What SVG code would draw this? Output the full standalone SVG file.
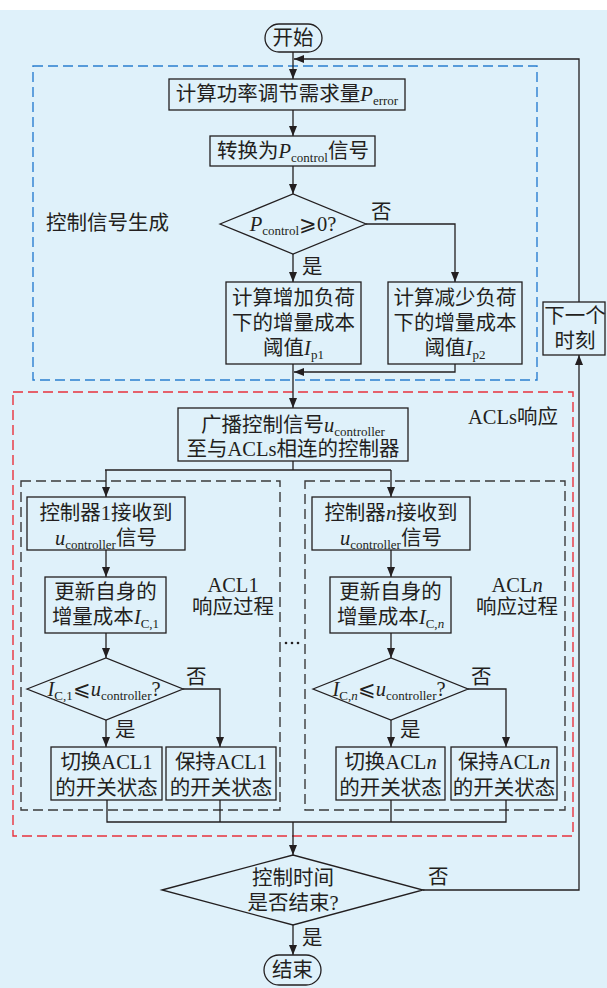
<svg xmlns="http://www.w3.org/2000/svg" width="607" height="988" viewBox="0 0 607 988">
<style>
.t{font-family:'Liberation Serif','Noto Sans CJK SC',serif;font-size:20.5px;fill:#231f20}
.m{text-anchor:middle}
.s{font-size:13px}
.i{font-style:italic}
.b{fill:none;stroke:#231f20;stroke-width:1.3}
.c{fill:none;stroke:#231f20;stroke-width:1.3}
.blue{fill:none;stroke:#2b7fd0;stroke-width:1.4;stroke-dasharray:10 5}
.red{fill:none;stroke:#e8323c;stroke-width:1.4;stroke-dasharray:10 5}
.blk{fill:none;stroke:#3a3a3a;stroke-width:1.4;stroke-dasharray:10 5}
</style>
<defs>
<marker id="a" viewBox="0 0 10 8" refX="10" refY="4" markerWidth="10" markerHeight="8" orient="auto" markerUnits="userSpaceOnUse"><path d="M0,0 L10,4 L0,8 z" fill="#231f20"/></marker>
</defs>
<rect x="0" y="10" width="607" height="978" fill="#dff1fa"/>

<g id="regions">
<rect class="blue" x="33" y="66" width="504" height="314"/>
<rect class="red" x="13" y="392" width="560" height="444"/>
<rect class="blk" x="21" y="481" width="259" height="329"/>
<rect class="blk" x="305" y="481" width="260" height="329"/>
<text class="t" x="46" y="230">控制信号生成</text>
<text class="t m" x="513" y="424">ACLs响应</text>
<text class="t m" x="233" y="592">ACL1</text>
<text class="t m" x="233" y="614">响应过程</text>
<text class="t m" x="517" y="592">ACL<tspan class="i">n</tspan></text>
<text class="t m" x="517" y="614">响应过程</text>
<circle cx="286" cy="643" r="1.3" fill="#231f20"/>
<circle cx="292" cy="643" r="1.3" fill="#231f20"/>
<circle cx="298" cy="643" r="1.3" fill="#231f20"/>
</g>

<g id="connectors">
<line class="c" x1="293" y1="52" x2="293" y2="79" marker-end="url(#a)"/>
<polyline class="c" points="579,302 579,59 294,59" marker-end="url(#a)"/>
<line class="c" x1="293" y1="110" x2="293" y2="136" marker-end="url(#a)"/>
<line class="c" x1="293" y1="166" x2="293" y2="194" marker-end="url(#a)"/>
<line class="c" x1="293" y1="254" x2="293" y2="282" marker-end="url(#a)"/>
<polyline class="c" points="366,224 455,224 455,282" marker-end="url(#a)"/>
<polyline class="c" points="455,364 455,372 294,372" marker-end="url(#a)"/>
<line class="c" x1="293" y1="364" x2="293" y2="408" marker-end="url(#a)"/>
<line class="c" x1="293" y1="461" x2="293" y2="470"/>
<line class="c" x1="105" y1="470" x2="391" y2="470"/>
<line class="c" x1="106" y1="470" x2="106" y2="497" marker-end="url(#a)"/>
<line class="c" x1="391" y1="470" x2="391" y2="497" marker-end="url(#a)"/>
<line class="c" x1="106" y1="550" x2="106" y2="577" marker-end="url(#a)"/>
<line class="c" x1="391" y1="550" x2="391" y2="577" marker-end="url(#a)"/>
<line class="c" x1="106" y1="633" x2="106" y2="658" marker-end="url(#a)"/>
<line class="c" x1="391" y1="633" x2="391" y2="658" marker-end="url(#a)"/>
<line class="c" x1="106" y1="720" x2="106" y2="747" marker-end="url(#a)"/>
<polyline class="c" points="183,689 220,689 220,747" marker-end="url(#a)"/>
<line class="c" x1="391" y1="720" x2="391" y2="747" marker-end="url(#a)"/>
<polyline class="c" points="468,689 506,689 506,747" marker-end="url(#a)"/>
<polyline class="c" points="107,800 107,822 506,822 506,800"/>
<line class="c" x1="220" y1="800" x2="220" y2="822"/>
<line class="c" x1="391" y1="800" x2="391" y2="822"/>
<line class="c" x1="293" y1="822" x2="293" y2="855" marker-end="url(#a)"/>
<polyline class="c" points="423,890 579,890 579,355" marker-end="url(#a)"/>
<line class="c" x1="293" y1="925" x2="293" y2="955" marker-end="url(#a)"/>
<text class="t" x="371" y="219">否</text>
<text class="t" x="302" y="274">是</text>
<text class="t" x="186" y="684">否</text>
<text class="t" x="115" y="737">是</text>
<text class="t" x="471" y="684">否</text>
<text class="t" x="400" y="737">是</text>
<text class="t" x="428" y="884">否</text>
<text class="t" x="302" y="945">是</text>
</g>

<g id="start">
<rect class="b" x="265" y="24" width="57" height="28" rx="14"/>
<text class="t m" x="293" y="45">开始</text>
</g>
<g id="calc-p">
<rect class="b" x="169" y="79" width="236" height="31"/>
<text class="t m" x="287" y="101">计算功率调节需求量<tspan class="i">P</tspan><tspan class="s" dy="4">error</tspan></text>
</g>
<g id="convert">
<rect class="b" x="210" y="136" width="165" height="30"/>
<text class="t m" x="293" y="158">转换为<tspan class="i">P</tspan><tspan class="s" dy="4">control</tspan><tspan dy="-4">信号</tspan></text>
</g>
<g id="dec1">
<polygon class="b" points="220,224 293,194 366,224 293,254"/>
<text class="t m" x="293" y="231"><tspan class="i">P</tspan><tspan class="s" dy="4">control</tspan><tspan dy="-4">⩾0?</tspan></text>
</g>
<g id="inc-cost">
<rect class="b" x="226" y="282" width="135" height="82"/>
<text class="t m" x="293.5" y="305">计算增加负荷</text>
<text class="t m" x="293.5" y="330">下的增量成本</text>
<text class="t m" x="293.5" y="355">阈值<tspan class="i">I</tspan><tspan class="s" dy="4">p1</tspan></text>
</g>
<g id="dec-cost">
<rect class="b" x="388" y="282" width="134" height="82"/>
<text class="t m" x="455" y="305">计算减少负荷</text>
<text class="t m" x="455" y="330">下的增量成本</text>
<text class="t m" x="455" y="355">阈值<tspan class="i">I</tspan><tspan class="s" dy="4">p2</tspan></text>
</g>
<g id="next">
<rect class="b" x="543" y="302" width="62" height="53"/>
<text class="t m" x="575" y="323">下一个</text>
<text class="t m" x="575" y="348">时刻</text>
</g>
<g id="broadcast">
<rect class="b" x="178" y="408" width="230" height="53"/>
<text class="t m" x="293" y="432">广播控制信号<tspan class="i">u</tspan><tspan class="s" dy="4">controller</tspan></text>
<text class="t m" x="293" y="456">至与ACLs相连的控制器</text>
</g>
<g id="recv1">
<rect class="b" x="27" y="497" width="158" height="53"/>
<text class="t m" x="106" y="520">控制器1接收到</text>
<text class="t m" x="106" y="545"><tspan class="i">u</tspan><tspan class="s" dy="4">controller</tspan><tspan dy="-4">信号</tspan></text>
</g>
<g id="update1">
<rect class="b" x="45" y="577" width="121" height="56"/>
<text class="t m" x="105.5" y="599">更新自身的</text>
<text class="t m" x="105.5" y="624">增量成本<tspan class="i">I</tspan><tspan class="s" dy="4">C,1</tspan></text>
</g>
<g id="dec-acl1">
<polygon class="b" points="27,689 106,658 183,689 106,720"/>
<text class="t m" x="104" y="696"><tspan class="i">I</tspan><tspan class="s" dy="4">C,1</tspan><tspan dy="-4">⩽</tspan><tspan class="i">u</tspan><tspan class="s" dy="4">controller</tspan><tspan dy="-4">?</tspan></text>
</g>
<g id="switch1">
<rect class="b" x="51" y="747" width="111" height="53"/>
<text class="t m" x="106.5" y="769">切换ACL1</text>
<text class="t m" x="106.5" y="795">的开关状态</text>
</g>
<g id="keep1">
<rect class="b" x="166" y="747" width="110" height="53"/>
<text class="t m" x="221" y="769">保持ACL1</text>
<text class="t m" x="221" y="795">的开关状态</text>
</g>
<g id="recvn">
<rect class="b" x="312" y="497" width="158" height="53"/>
<text class="t m" x="391" y="520">控制器<tspan class="i">n</tspan>接收到</text>
<text class="t m" x="391" y="545"><tspan class="i">u</tspan><tspan class="s" dy="4">controller</tspan><tspan dy="-4">信号</tspan></text>
</g>
<g id="updaten">
<rect class="b" x="330" y="577" width="121" height="56"/>
<text class="t m" x="390.5" y="599">更新自身的</text>
<text class="t m" x="390.5" y="624">增量成本<tspan class="i">I</tspan><tspan class="s" dy="4">C,<tspan class="i">n</tspan></tspan></text>
</g>
<g id="dec-acln">
<polygon class="b" points="313,689 391,658 468,689 391,720"/>
<text class="t m" x="389" y="696"><tspan class="i">I</tspan><tspan class="s" dy="4">C,<tspan class="i">n</tspan></tspan><tspan dy="-4">⩽</tspan><tspan class="i">u</tspan><tspan class="s" dy="4">controller</tspan><tspan dy="-4">?</tspan></text>
</g>
<g id="switchn">
<rect class="b" x="336" y="747" width="109" height="53"/>
<text class="t m" x="390.5" y="769">切换ACL<tspan class="i">n</tspan></text>
<text class="t m" x="390.5" y="795">的开关状态</text>
</g>
<g id="keepn">
<rect class="b" x="451" y="747" width="106" height="53"/>
<text class="t m" x="504" y="769">保持ACL<tspan class="i">n</tspan></text>
<text class="t m" x="504" y="795">的开关状态</text>
</g>
<g id="dec-end">
<polygon class="b" points="162,890 293,855 423,890 293,925"/>
<text class="t m" x="293" y="885">控制时间</text>
<text class="t m" x="293" y="910">是否结束?</text>
</g>
<g id="end">
<rect class="b" x="264" y="955" width="57" height="30" rx="15"/>
<text class="t m" x="292.5" y="977">结束</text>
</g>
</svg>
